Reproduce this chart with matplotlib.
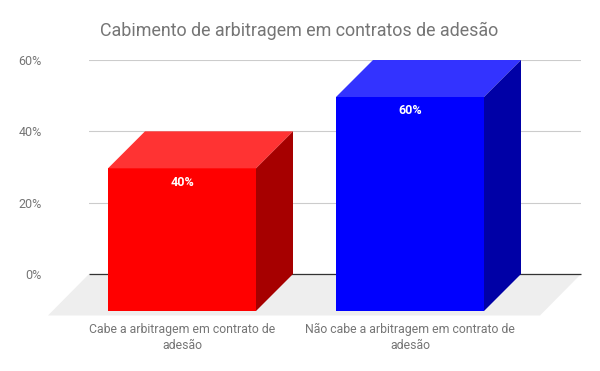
import matplotlib
matplotlib.use('Agg')
import matplotlib.pyplot as plt
from matplotlib.patches import Polygon

plt.rcParams['font.family'] = ['Roboto', 'DejaVu Sans']

categories = ['Cabe a arbitragem em contrato de\nadesão', 'Não cabe a arbitragem em contrato de\nadesão']
values = [40, 60]
labels = ['40%', '60%']
y_ticks = [0, 20, 40, 60]
y_labels = ['0%', '20%', '40%', '60%']
front_colors = ['#ff0000', '#0000ff']
top_colors = ['#ff3333', '#3333ff']
side_colors = ['#a60000', '#0000a6']

fig = plt.figure(figsize=(6, 3.71), dpi=100)
# plot area in pixels: x 89-581, y 60-274
ax = fig.add_axes([89 / 600, 1 - 274 / 371, 492 / 600, 214 / 371])
ax.set_xlim(-130 / 228, 362 / 228)
ax.set_ylim(0, 60)

# depth of the fake 3d in data units
px_x = 1 / 228
px_y = 60 / 214
dx = 37 * px_x
dy = 37 * px_y
w = 148 * px_x

# floor
x0, x1 = ax.get_xlim()
ax.add_patch(Polygon([(x0, 0), (x1, 0), (x1 - 41 * px_x, -41.5 * px_y), (x0 - 41 * px_x, -41.5 * px_y)],
                     closed=True, fc='#eeeeee', ec='none', clip_on=False, zorder=1))
ax.plot([x0, x1], [0, 0], color='#333333', lw=0.9, zorder=2, solid_capstyle='butt', clip_on=False)

for i, v in enumerate(values):
    l = i - w / 2
    r = i + w / 2
    # front
    ax.add_patch(Polygon([(l - dx, -dy), (r - dx, -dy), (r - dx, v - dy), (l - dx, v - dy)],
                         fc=front_colors[i], ec='none', clip_on=False, zorder=3))
    # top
    ax.add_patch(Polygon([(l - dx, v - dy), (r - dx, v - dy), (r, v), (l, v)],
                         fc=top_colors[i], ec='none', clip_on=False, zorder=3))
    # side
    ax.add_patch(Polygon([(r - dx, -dy), (r, 0), (r, v), (r - dx, v - dy)],
                         fc=side_colors[i], ec='none', clip_on=False, zorder=3))
    ax.text(i - dx, v - dy - 14 * px_y, labels[i], color='white', fontsize=9, fontweight='bold',
            ha='center', va='center', zorder=4)

ax.set_yticks(y_ticks)
ax.set_yticklabels(y_labels)
ax.tick_params(axis='y', length=0, pad=34, labelsize=9, labelcolor='#757575')
ax.grid(axis='y', color='#cccccc', lw=0.8)
ax.set_axisbelow(True)
for s in ax.spines.values():
    s.set_visible(False)

ax.set_xticks([i - dx for i in range(len(categories))])
ax.set_xticklabels(categories, linespacing=1.3)
ax.tick_params(axis='x', length=0, pad=35.5, labelsize=8.85, labelcolor='#757575')

fig.text(100 / 600, 1 - 30.5 / 371, 'Cabimento de arbitragem em contratos de adesão',
         fontsize=12.9, color='#757575', ha='left', va='center')

fig.savefig('out.png', dpi=100)
